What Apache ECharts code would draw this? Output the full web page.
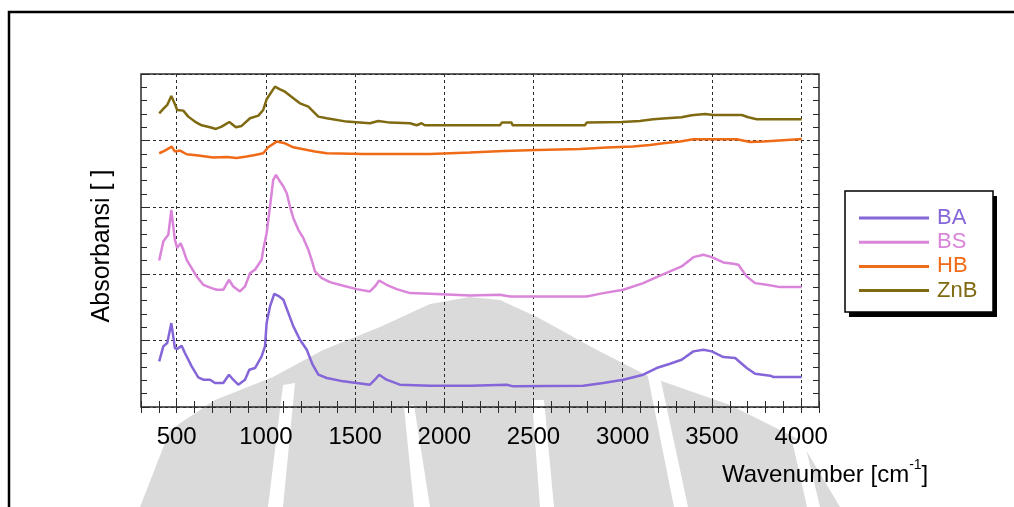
<!DOCTYPE html>
<html><head><meta charset="utf-8">
<script src="https://cdn.jsdelivr.net/npm/echarts@6/dist/echarts.min.js"></script>
<style>html,body{margin:0;padding:0;background:#fff}#c{width:1014px;height:507px}</style>
</head><body><div id="c"></div>
<script>
// ---- data (wavenumber, absorbance in grid units) ----
const seriesNames = ['BA', 'BS', 'HB', 'ZnB'];
const xTickLabels = [500, 1000, 1500, 2000, 2500, 3000, 3500, 4000];

const baX = [402,425,447,470,490,503,528,546,584,621,649,687,715,761,793,817,845,883,907,939,976,995,1004,1023,1047,1075,1098,1126,1154,1191,1229,1262,1294,1341,1434,1583,1611,1635,1676,1751,1920,2144,2350,2387,2779,2891,3003,3115,3190,3265,3330,3396,3452,3499,3564,3630,3695,3742,3826,3845,4003];
const baY = [0.685,0.91,0.96,1.26,0.885,0.87,0.92,0.81,0.61,0.445,0.41,0.41,0.36,0.36,0.485,0.41,0.335,0.41,0.56,0.585,0.76,0.91,1.26,1.51,1.70,1.66,1.61,1.41,1.21,1.01,0.86,0.635,0.485,0.435,0.385,0.335,0.41,0.485,0.41,0.335,0.32,0.32,0.335,0.31,0.32,0.36,0.41,0.485,0.585,0.65,0.71,0.835,0.86,0.835,0.75,0.735,0.585,0.50,0.47,0.45,0.45];

const bsX = [402,425,440,453,470,490,503,522,537,556,612,649,696,724,761,793,817,855,883,911,939,976,985,1004,1023,1041,1057,1079,1098,1117,1135,1154,1182,1210,1238,1262,1275,1313,1359,1434,1508,1583,1611,1635,1676,1733,1808,1920,2144,2312,2368,2798,2891,3003,3115,3190,3265,3330,3396,3452,3499,3564,3620,3648,3695,3742,3807,3882,4003];
const bsY = [2.20,2.485,2.54,2.585,2.96,2.51,2.385,2.46,2.36,2.21,1.96,1.835,1.785,1.76,1.76,1.91,1.81,1.735,1.81,2.01,2.06,2.21,2.36,2.61,3.01,3.41,3.485,3.385,3.31,3.21,3.01,2.835,2.66,2.535,2.36,2.16,2.035,1.935,1.875,1.82,1.77,1.735,1.81,1.90,1.835,1.77,1.71,1.70,1.675,1.685,1.66,1.66,1.71,1.76,1.86,1.95,2.035,2.11,2.25,2.285,2.25,2.17,2.15,2.135,1.96,1.86,1.835,1.80,1.80];

const hbX = [402,434,472,490,519,556,621,705,780,836,892,939,985,1013,1060,1107,1154,1210,1275,1341,1546,1920,2144,2331,2518,2761,2910,3059,3153,3227,3321,3396,3639,3714,3789,3920,4003];
const hbY = [3.81,3.85,3.91,3.835,3.85,3.795,3.775,3.745,3.755,3.74,3.76,3.785,3.81,3.90,3.985,3.96,3.90,3.87,3.835,3.81,3.80,3.80,3.82,3.845,3.86,3.875,3.895,3.91,3.935,3.96,3.985,4.02,4.02,3.98,3.985,4.01,4.025];

const znbX = [402,425,447,470,492,503,537,565,602,640,687,720,752,795,832,864,911,958,985,1004,1051,1079,1107,1154,1191,1238,1294,1341,1453,1583,1630,1696,1808,1845,1873,1890,2312,2322,2377,2383,2788,2798,2994,3096,3171,3246,3330,3386,3461,3508,3667,3704,3751,4003];
const znbY = [4.41,4.475,4.535,4.67,4.535,4.46,4.45,4.36,4.285,4.23,4.20,4.175,4.21,4.28,4.20,4.22,4.335,4.375,4.46,4.62,4.81,4.77,4.735,4.635,4.56,4.51,4.36,4.335,4.285,4.26,4.295,4.27,4.26,4.23,4.26,4.23,4.23,4.27,4.27,4.23,4.23,4.27,4.28,4.295,4.32,4.335,4.35,4.38,4.40,4.385,4.385,4.35,4.32,4.32];

// ---- styling ----
const colors = ['#8466d8', '#da84da', '#ef6b17', '#7f6a12'];
const FONT = "'Liberation Sans', Arial, sans-serif";
const xs = [baX, bsX, hbX, znbX];
const ys = [baY, bsY, hbY, znbY];
const pair = (X, Y) => X.map((x, i) => [x, Y[i]]);
const T = 'rgba(0,0,0,0)';
const AX = '#2a2a2a';

const chart = echarts.init(document.getElementById('c'), null, {renderer: 'canvas'});

const watermark = [
  {type: 'polygon', z: -10, silent: true, shape: {points: [[470,297],[500,300],[537,317],[597,350],[650,377],[730,405],[800,440],[840,507],[140,507],[170,430],[215,400],[273,377],[323,350],[380,327],[430,304]]}, style: {fill: '#dadada'}},
  {type: 'polygon', z: -9, silent: true, shape: {points: [[283,385],[295,383],[283,507],[268,507]]}, style: {fill: '#fff'}},
  {type: 'polygon', z: -9, silent: true, shape: {points: [[404,407],[414,405],[430,507],[414,507]]}, style: {fill: '#fff'}},
  {type: 'polygon', z: -9, silent: true, shape: {points: [[532,400],[544,400],[554,507],[540,507]]}, style: {fill: '#fff'}},
  {type: 'polygon', z: -9, silent: true, shape: {points: [[647,372],[659,372],[688,507],[674,507]]}, style: {fill: '#fff'}},
  {type: 'polygon', z: -9, silent: true, shape: {points: [[792,440],[804,440],[820,507],[807,507]]}, style: {fill: '#fff'}}
];

const option = {
  backgroundColor: '#fff',
  animation: false,
  grid: {left: 141, top: 74, width: 678, height: 333, show: true, borderColor: AX, borderWidth: 1.5, backgroundColor: 'transparent'},
  xAxis: [
    {type: 'value', min: 300, max: 4100, interval: 100, position: 'bottom',
     axisLine: {show: false},
     axisTick: {inside: true, length: 6, lineStyle: {color: AX, width: 1}},
     axisLabel: {fontSize: 24, fontFamily: FONT, color: '#000', margin: 18,
                 formatter: v => xTickLabels.includes(v) ? String(v) : ''},
     splitLine: {show: true, lineStyle: {color: [T, T, AX, T, T], type: [3, 3], width: 1}}},
    {type: 'value', min: 300, max: 4100, interval: 100, position: 'top',
     axisLine: {show: false},
     axisTick: {inside: true, length: 6, lineStyle: {color: AX, width: 1}},
     axisLabel: {show: false}, splitLine: {show: false}}
  ],
  yAxis: [
    {type: 'value', min: 0, max: 5, interval: 1, position: 'left',
     axisLine: {show: false},
     axisTick: {inside: true, length: 6, lineStyle: {color: AX, width: 1}},
     minorTick: {show: true, splitNumber: 5, length: 6, lineStyle: {color: AX, width: 1}},
     axisLabel: {show: false},
     splitLine: {show: true, lineStyle: {color: AX, type: [3, 3], width: 1}}},
    {type: 'value', min: 0, max: 5, interval: 1, position: 'right',
     axisLine: {show: false},
     axisTick: {inside: true, length: 6, lineStyle: {color: AX, width: 1}},
     minorTick: {show: true, splitNumber: 5, length: 6, lineStyle: {color: AX, width: 1}},
     axisLabel: {show: false}, splitLine: {show: false}}
  ],
  legend: {
    orient: 'vertical', left: 859, top: 207, padding: 0, icon: 'rect', itemWidth: 70, itemHeight: 3, itemGap: 2.2,
    textStyle: {fontSize: 22, fontFamily: FONT, lineHeight: 22, padding: [0, 0, 0, 3]},
    data: seriesNames.map((n, i) => ({name: n, textStyle: {color: colors[i]}}))
  },
  graphic: [
    ...watermark,
    {type: 'polyline', z: 1, silent: true, shape: {points: [[9, 507], [9, 12], [1014, 12]]}, style: {stroke: '#000', lineWidth: 2.5, fill: null}},
    {type: 'rect', z: 1, silent: true, shape: {x: 849, y: 196, width: 148, height: 121}, style: {fill: '#000'}},
    {type: 'rect', z: 2, silent: true, shape: {x: 845, y: 191, width: 148, height: 121}, style: {fill: '#fff', stroke: '#000', lineWidth: 1.5}},
    {type: 'text', z: 5, silent: true, x: 102, y: 246, rotation: Math.PI / 2,
     style: {text: 'Absorbansi [ ]', fontSize: 25, fontFamily: FONT, fill: '#000', align: 'center', verticalAlign: 'middle'}},
    {type: 'text', z: 5, silent: true, x: 722, y: 475,
     style: {text: '{a|Wavenumber [cm}{s|-1}{a|]}', align: 'left', verticalAlign: 'middle',
             rich: {a: {fontSize: 24, fontFamily: FONT, fill: '#000', lineHeight: 34},
                    s: {fontSize: 14, fontFamily: FONT, fill: '#000', lineHeight: 14, verticalAlign: 'top'}}}}
  ],
  series: seriesNames.map((n, i) => ({
    name: n, type: 'line', xAxisIndex: 0, yAxisIndex: 0,
    data: pair(xs[i], ys[i]), symbol: 'none', showSymbol: false, smooth: false,
    lineStyle: {color: colors[i], width: 2.5}, itemStyle: {color: colors[i]}, z: 3
  }))
};
chart.setOption(option);
</script>
</body></html>
